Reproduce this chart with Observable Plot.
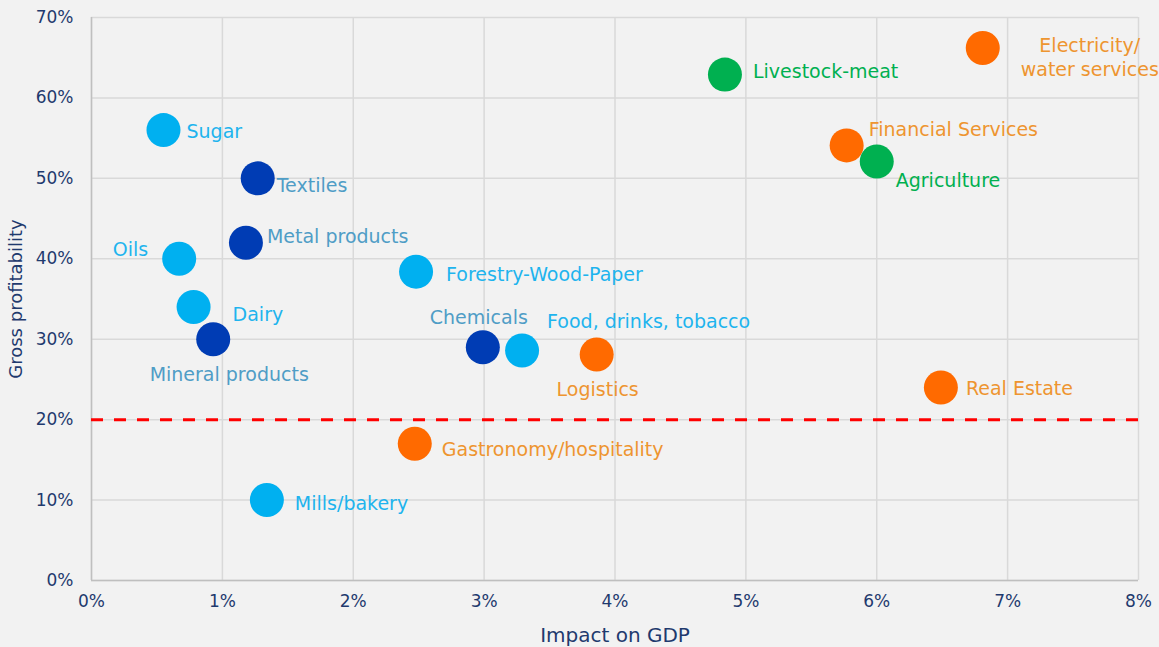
<!DOCTYPE html>
<html>
<head>
<meta charset="utf-8">
<script src="https://cdn.jsdelivr.net/npm/d3@7"></script>
<script src="https://cdn.jsdelivr.net/npm/@observablehq/plot@0.6"></script>
<style>
  html, body { margin: 0; padding: 0; background: #F2F2F2; }
  #chart svg { display: block; }
  #chart g[aria-label="x-axis label"] text,
  #chart g[aria-label="x-axis label"] { font-size: 20px !important; }
  #chart g[aria-label="y-axis label"] text,
  #chart g[aria-label="y-axis label"] { font-size: 18px !important; }
</style>
</head>
<body>
<div id="chart"></div>
<script>
// Data
const sectors = ["Sugar", "Textiles", "Metal products", "Oils", "Dairy", "Mineral products", "Mills/bakery",
  "Forestry-Wood-Paper", "Chemicals", "Food, drinks, tobacco", "Logistics", "Gastronomy/hospitality",
  "Real Estate", "Financial Services", "Agriculture", "Livestock-meat", "Electricity/\nwater services"];
const gdpImpact = [0.55, 1.27, 1.18, 0.67, 0.78, 0.93, 1.34, 2.48, 2.99, 3.29, 3.86, 2.47, 6.49, 5.77, 6.00, 4.84, 6.81];
const grossProfit = [56, 50, 42, 40, 34, 30, 10, 38.4, 29, 28.6, 28.1, 17, 24, 54.1, 52.1, 62.9, 66.2];
const groups = ["light", "dark", "dark", "light", "light", "dark", "light",
  "light", "dark", "light", "orange", "orange", "orange", "orange", "green", "green", "orange"];
const threshold = 20;
const xTicks = [0, 1, 2, 3, 4, 5, 6, 7, 8];
const yTicks = [0, 10, 20, 30, 40, 50, 60, 70];

// Label layout (annotation offsets in px from each point)
const labelLayout = [
  [23, 0, "start"], [19, 6, "start"], [21, -7, "start"], [-31, -10, "end"], [39, 6, "start"],
  [16, 34, "middle"], [28, 2, "start"], [30, 2, "start"], [-4, -31, "middle"], [25, -30, "start"],
  [1, 34, "middle"], [27, 5, "start"], [25, 0, "start"], [22, -17, "start"], [19, 18, "start"],
  [28, -4, "start"], [107, 8, "middle"]
];

const dotColor = {light: "#00B0F0", dark: "#003CB4", orange: "#FF6A00", green: "#00B050"};
const textColor = {light: "#1EB4EE", dark: "#4F9DC6", orange: "#EE9530", green: "#00B050"};

const data = sectors.map((s, i) => ({
  name: s, x: gdpImpact[i] / 100, y: grossProfit[i] / 100, group: groups[i]
}));

const font = "DejaVu Sans";
const pct = d => Math.round(d * 100) + "%";

const labelMarks = data.map((d, i) => Plot.text([d], {
  x: "x", y: "y", text: "name",
  dx: labelLayout[i][0], dy: labelLayout[i][1], textAnchor: labelLayout[i][2],
  fill: textColor[d.group], fontSize: 19, lineHeight: 1.25
}));

const chart = Plot.plot({
  width: 1159,
  height: 647,
  marginLeft: 91,
  marginRight: 21,
  marginTop: 17,
  marginBottom: 67,
  style: {background: "#F2F2F2", fontFamily: font, fontSize: "17px", color: "#1F3A6E", overflow: "visible"},
  x: {domain: [0, 0.08]},
  y: {domain: [0, 0.7]},
  marks: [
    Plot.gridX(xTicks.map(v => v / 100), {stroke: "#D9D9D9", strokeOpacity: 1, strokeWidth: 1.5}),
    Plot.gridY(yTicks.map(v => v / 100), {stroke: "#D9D9D9", strokeOpacity: 1, strokeWidth: 1.5}),
    Plot.ruleX([0], {stroke: "#BFBFBF", strokeWidth: 1.5}),
    Plot.ruleY([0], {stroke: "#BFBFBF", strokeWidth: 1.5}),
    Plot.ruleY([threshold / 100], {stroke: "#FF0000", strokeWidth: 3, strokeDasharray: "12,11"}),
    Plot.axisX({ticks: xTicks.map(v => v / 100), tickFormat: pct, tickSize: 0, tickPadding: 14,
      fontSize: 17, fill: "#1F3A6E", label: null}),
    Plot.axisY({ticks: yTicks.map(v => v / 100), tickFormat: pct, tickSize: 0, tickPadding: 18,
      fontSize: 17, fill: "#1F3A6E", label: null}),
    Plot.axisX({ticks: [], label: "Impact on GDP", labelAnchor: "center", labelOffset: 61, labelArrow: "none",
      fontSize: 20, fill: "#1F3A6E", tickSize: 0}),
    Plot.axisY({ticks: [], label: "Gross profitability", labelAnchor: "center", labelOffset: 82, labelArrow: "none",
      fontSize: 18, fill: "#1F3A6E", tickSize: 0}),
    Plot.dot(data, {x: "x", y: "y", r: 17, fill: d => dotColor[d.group], stroke: "none"}),
    ...labelMarks
  ]
});

document.getElementById("chart").appendChild(chart);
</script>
</body>
</html>
